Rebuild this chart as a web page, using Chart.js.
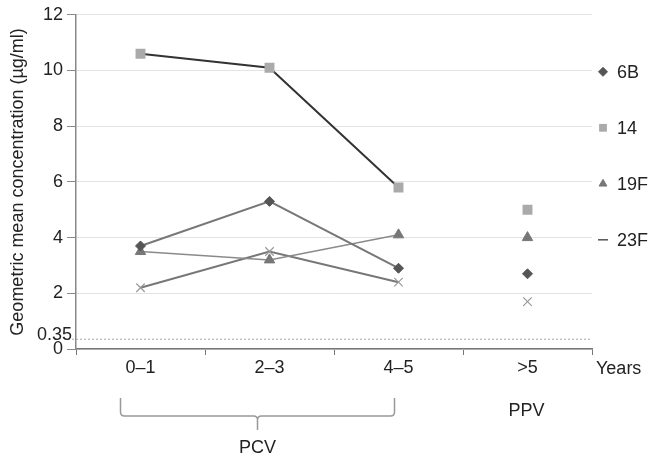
<!DOCTYPE html>
<html>
<head>
<meta charset="utf-8">
<script src="https://cdn.jsdelivr.net/npm/chart.js@4"></script>
<style>
  html, body { margin: 0; padding: 0; background: #fff; }
  #wrap { width: 650px; height: 456px; }
</style>
</head>
<body>
<div id="wrap"><canvas id="gmcChart" width="650" height="456"></canvas></div>
<script>
// Age groups (years since vaccination); the last group is the PPV one
const ageGroups = ["0–1", "2–3", "4–5", ">5"];
const serotypes = ["6B", "14", "19F", "23F"];

// Geometric mean concentration (µg/ml) per serotype
const gmc6B = [3.7, 5.3, 2.9, 2.7];
const gmc14 = [10.6, 10.1, 5.8, 5.0];
const gmc19F = [3.5, 3.2, 4.1, 4.0];
const gmc23F = [2.2, 3.5, 2.4, 1.7];

const yTicks = [0, 0.35, 2, 4, 6, 8, 10, 12];
const protectiveLevel = 0.35;
const ppvIndex = 3;

const FONT = "'Liberation Sans', Arial, sans-serif";
Chart.defaults.font.family = FONT;
Chart.defaults.color = "#222";

const styles = {
  "6B": { line: "#777", width: 2, point: "rectRot", radius: 5, fill: "#555", pbw: 1 },
  "14": { line: "#333", width: 2, point: "rect", radius: 7, fill: "#aaa", pbw: 0 },
  "19F": { line: "#8a8a8a", width: 1.5, point: "triangle", radius: 6, fill: "#777", pbw: 1 },
  "23F": { line: "#777", width: 2, point: "crossRot", radius: 6, fill: "#999", pbw: 1.2 },
};

function series(label, data) {
  const s = styles[label];
  return {
    label,
    data,
    borderColor: s.line,
    borderWidth: s.width,
    pointStyle: s.point,
    pointRadius: s.radius,
    pointHoverRadius: s.radius,
    pointBackgroundColor: s.fill,
    pointBorderColor: s.fill,
    pointBorderWidth: s.pbw,
    tension: 0,
    // PPV group is not joined to the PCV groups
    segment: {
      borderColor: (ctx) => (ctx.p1DataIndex === ppvIndex ? "rgba(0,0,0,0)" : undefined),
    },
  };
}

const annotations = {
  id: "annotations",
  beforeDatasetsDraw(chart) {
    const { ctx, chartArea, scales } = chart;
    const y = scales.y.getPixelForValue(protectiveLevel);
    ctx.save();
    ctx.strokeStyle = "#aaa";
    ctx.lineWidth = 1;
    ctx.setLineDash([2, 2]);
    ctx.beginPath();
    ctx.moveTo(chartArea.left - 8, y);
    ctx.lineTo(chartArea.right, y);
    ctx.stroke();
    ctx.restore();
  },
  afterDraw(chart) {
    const { ctx, chartArea, scales } = chart;
    const x = scales.x;
    const base = chartArea.bottom;
    ctx.save();

    // label of the protective level, sits on the dotted line
    ctx.font = "18px " + FONT;
    ctx.fillStyle = "#222";
    ctx.textAlign = "right";
    ctx.textBaseline = "alphabetic";
    ctx.fillText(String(protectiveLevel), chartArea.left - 4, scales.y.getPixelForValue(protectiveLevel) + 1);

    // legend
    ctx.textBaseline = "middle";
    ctx.textAlign = "left";
    chart.data.datasets.forEach((ds, i) => {
      const ly = chartArea.top + 57 + i * 56;
      const lx = chartArea.right + 11;
      const s = styles[ds.label];
      if (s.point === "crossRot") {
        ctx.strokeStyle = "#555";
        ctx.lineWidth = 1.5;
        ctx.beginPath();
        ctx.moveTo(lx - 5, ly);
        ctx.lineTo(lx + 5, ly);
        ctx.stroke();
      } else {
        ctx.fillStyle = s.fill;
        ctx.strokeStyle = s.fill;
        Chart.helpers.drawPoint(ctx, {
          pointStyle: s.point,
          radius: s.point === "rect" ? 5.5 : 4.5,
          rotation: 0,
          borderWidth: s.pbw,
        }, lx, ly);
      }
      ctx.fillStyle = "#222";
      ctx.fillText(ds.label, lx + 14, ly + 1);
    });

    // axis unit
    ctx.fillText("Years", chartArea.right + 4, base + 20);

    // PCV bracket
    const left = x.getPixelForValue(0) - 20;
    const right = x.getPixelForValue(2) - 4;
    const mid = (left + right) / 2;
    const top = base + 49;
    const bot = base + 67;
    const r = 4;
    ctx.strokeStyle = "#999";
    ctx.lineWidth = 1.5;
    ctx.beginPath();
    ctx.moveTo(left, top);
    ctx.lineTo(left, bot - r);
    ctx.quadraticCurveTo(left, bot, left + r, bot);
    ctx.lineTo(mid - r, bot);
    ctx.quadraticCurveTo(mid, bot, mid, bot + r);
    ctx.lineTo(mid, base + 81);
    ctx.moveTo(mid, bot + r);
    ctx.quadraticCurveTo(mid, bot, mid + r, bot);
    ctx.lineTo(right - r, bot);
    ctx.quadraticCurveTo(right, bot, right, bot - r);
    ctx.lineTo(right, top);
    ctx.stroke();

    ctx.fillStyle = "#222";
    ctx.textAlign = "center";
    ctx.fillText("PCV", mid, base + 99);
    ctx.fillText("PPV", x.getPixelForValue(ppvIndex) - 1, base + 62);
    ctx.restore();
  },
};

new Chart(document.getElementById("gmcChart"), {
  type: "line",
  data: {
    labels: ageGroups,
    datasets: [
      series(serotypes[0], gmc6B),
      series(serotypes[1], gmc14),
      series(serotypes[2], gmc19F),
      series(serotypes[3], gmc23F),
    ],
  },
  options: {
    responsive: false,
    animation: false,
    layout: { padding: { left: 0, top: 14, right: 58, bottom: 0 } },
    plugins: {
      legend: { display: false },
      tooltip: { enabled: false },
    },
    scales: {
      x: {
        offset: true,
        grid: {
          offset: true,
          drawOnChartArea: false,
          tickLength: 6,
          tickColor: "#777",
        },
        border: { color: "#777", width: 1.5 },
        ticks: {
          color: "#222",
          font: { size: 18 },
          padding: 2,
          maxRotation: 0,
        },
        afterFit: (s) => { s.height = 107; },
      },
      y: {
        min: 0,
        max: 12,
        afterBuildTicks: (s) => { s.ticks = yTicks.map((v) => ({ value: v })); },
        ticks: {
          autoSkip: false,
          color: "#222",
          font: { size: 18 },
          padding: 4,
          // 0.35 is written by the plugin, above its dotted line
          callback: (v) => (v === protectiveLevel ? "" : String(v)),
        },
        grid: {
          color: (ctx) => (ctx.tick && ctx.tick.value === protectiveLevel ? "rgba(0,0,0,0)" : "#e3e3e3"),
          tickColor: (ctx) => (ctx.tick && ctx.tick.value === protectiveLevel ? "rgba(0,0,0,0)" : "#888"),
          tickLength: 9,
        },
        border: { color: "#888", width: 1.5 },
        title: {
          display: true,
          text: "Geometric mean concentration (µg/ml)",
          color: "#222",
          font: { size: 18 },
          padding: { top: 7, bottom: 0 },
        },
        afterFit: (s) => { s.width = 76; },
      },
    },
  },
  plugins: [annotations],
});
</script>
</body>
</html>
